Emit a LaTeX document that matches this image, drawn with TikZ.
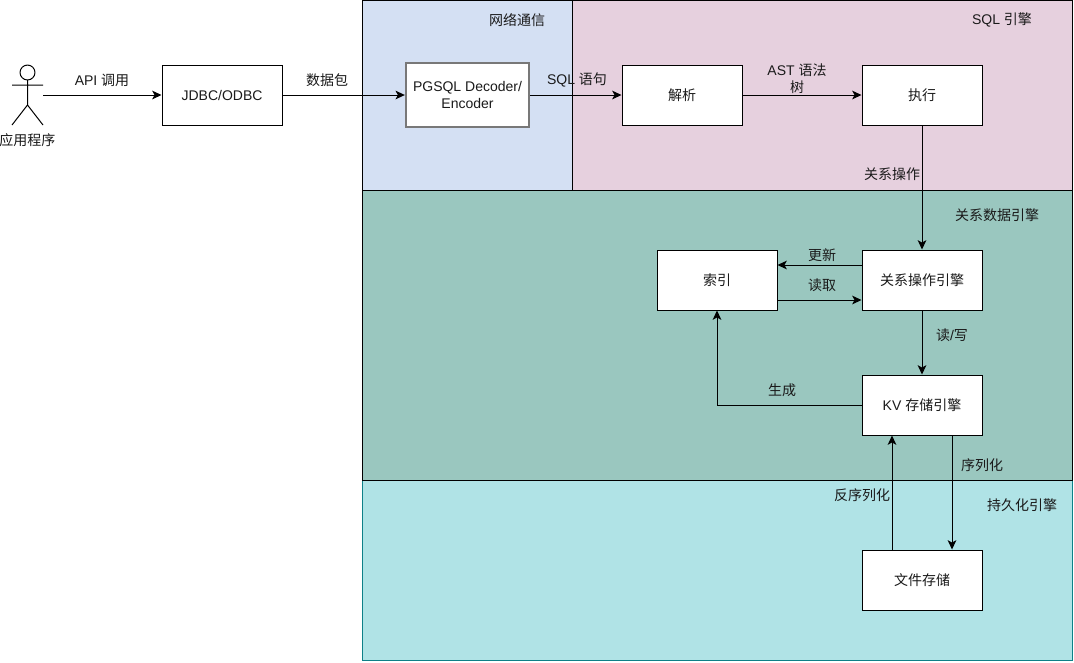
\documentclass[tikz,border=0pt]{standalone}
\usepackage{fontspec}
\setmainfont{Liberation Sans}
\newfontfamily\cjk{Noto Sans CJK SC}
\usetikzlibrary{arrows.meta}
\definecolor{txt}{HTML}{1A1A1A}
\tikzset{
  x=0.75pt,y=-0.75pt,
  every node/.style={font=\fontsize{10.5}{12.6}\selectfont,text=txt},
  lay/.style={draw=black,line width=0.75pt},
  boxn/.style={draw=black,fill=white,line width=0.75pt,minimum width=90pt,minimum height=45pt,inner sep=0pt,align=center},
  lbl/.style={inner sep=0pt,align=center},
  conn/.style={draw=black,line width=0.75pt,-{Stealth[length=7pt,width=6.5pt,inset=1.8pt]}},
}
\begin{document}
\begin{tikzpicture}
\useasboundingbox (0,0) rectangle (1074,662);
\fill[white] (0,0) rectangle (1074,662);
% layers
\draw[lay,fill={rgb,255:red,212;green,224;blue,243}] (362,0) rectangle (572,190);
\draw[lay,fill={rgb,255:red,230;green,208;blue,222}] (572,0) rectangle (1072,190);
\draw[line width=0.75pt,draw={rgb,255:red,14;green,128;blue,136},fill={rgb,255:red,176;green,227;blue,230}] (362,480) rectangle (1072,660);
\draw[lay,fill={rgb,255:red,154;green,199;blue,191}] (362,190) rectangle (1072,480);
% actor
\node[inner sep=0pt,minimum width=23.25pt,minimum height=45pt] (actor) at (27.5,95) {};
\draw[line width=0.75pt,fill=white] (27.5,72.5) circle (5.6pt);
\draw[line width=0.75pt] (27.5,80) -- (27.5,105) (12,85) -- (43,85) (12,125) -- (27.5,105) -- (43,125);
\node[lbl] (actorl) at (27.5,140) {\cjk 应用程序};
% boxes
\node[boxn] (jdbc) at (222,95) {JDBC/ODBC};
\node[boxn,draw={rgb,255:red,120;green,120;blue,120},line width=1.5pt,minimum width=92.5pt,minimum height=48pt] (pg) at (467.5,95) {PGSQL Decoder/\\Encoder};
\node[boxn] (parse) at (682,95) {\cjk 解析};
\node[boxn] (exec) at (922,95) {\cjk 执行};
\node[boxn] (idx) at (717,280) {\cjk 索引};
\node[boxn] (rel) at (922,280) {\cjk 关系操作引擎};
\node[boxn] (kv) at (922,405) {KV {\cjk 存储引擎}};
\node[boxn] (file) at (922,580) {\cjk 文件存储};
% connectors
\draw[conn] (actor.east) -- (jdbc.west);
\draw[conn] (jdbc.east) -- (pg.west);
\draw[conn] (pg.east) -- (parse.west);
\draw[conn] (parse.east) -- (exec.west);
\draw[conn] (exec.south) -- (rel.north);
\draw[conn] ([yshift=11.25pt]rel.west) -- ([yshift=11.25pt]idx.east);
\draw[conn] ([yshift=-15pt]idx.east) -- ([yshift=-15pt]rel.west);
\draw[conn] (rel.south) -- (kv.north);
\draw[conn] (kv.west) -| (idx.south);
\draw[conn] ([xshift=22.5pt]kv.south) -- ([xshift=22.5pt]file.north);
\draw[conn] ([xshift=-22.5pt]file.north) -- ([xshift=-22.5pt]kv.south);
% labels
\node[lbl] (l1) at (102,80) {API {\cjk 调用}};
\node[lbl] (l2) at (327,80) {\cjk 数据包};
\node[lbl] (l3) at (577,80) {SQL {\cjk 语句}};
\node[lbl] (l4) at (797,79) {AST {\cjk 语法}\\{\cjk 树}};
\node[lbl] (l5) at (892,174) {\cjk 关系操作};
\node[lbl] (l6) at (517,20) {\cjk 网络通信};
\node[lbl] (l7) at (1002,20) {SQL {\cjk 引擎}};
\node[lbl] (l8) at (997,215) {\cjk 关系数据引擎};
\node[lbl] (l9) at (822,255) {\cjk 更新};
\node[lbl] (l10) at (822,285) {\cjk 读取};
\node[lbl] (l11) at (952,335) {{\cjk 读}/{\cjk 写}};
\node[lbl] (l12) at (782,390) {\cjk 生成};
\node[lbl] (l13) at (982,465) {\cjk 序列化};
\node[lbl] (l14) at (862,495) {\cjk 反序列化};
\node[lbl] (l15) at (1022,505) {\cjk 持久化引擎};
\end{tikzpicture}
\end{document}
